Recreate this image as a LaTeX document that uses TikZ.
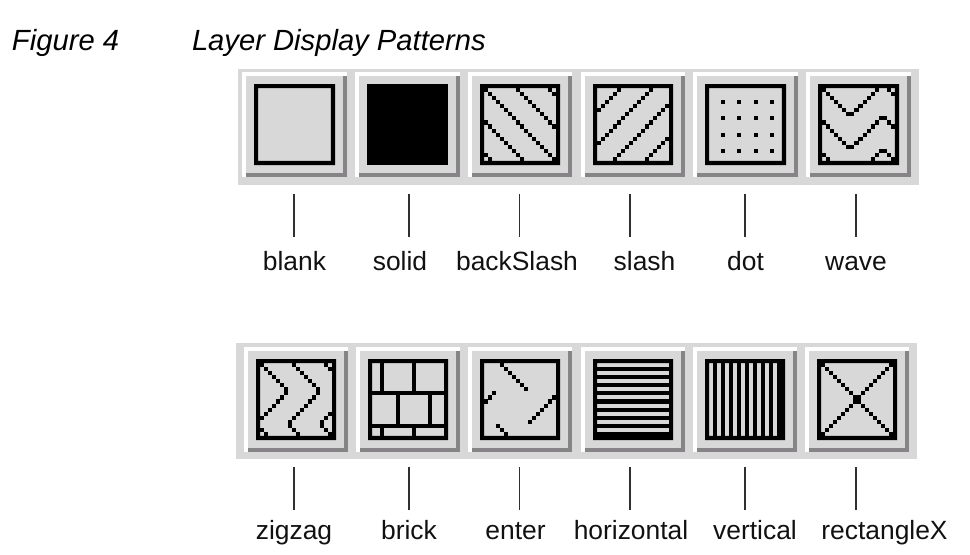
\documentclass[tikz,border=0pt]{standalone}
\usepackage{fontspec}
\setmainfont{Liberation Sans}
\definecolor{panelgray}{HTML}{D8D8D8}
\definecolor{shadegray}{HTML}{868486}
\definecolor{tickgray}{HTML}{303030}
\definecolor{inkcol}{HTML}{111111}
\tikzset{
  panel/.style={fill=panelgray,draw=none},
  lab/.style={font=\fontsize{19.8pt}{22pt}\selectfont,text=inkcol,anchor=base,inner sep=0pt,outer sep=0pt},
  head/.style={font=\fontsize{21.9pt}{24pt}\selectfont\itshape,text=black,anchor=base west,inner sep=0pt,outer sep=0pt},
  tick/.style={draw=tickgray,line width=0.9pt}
}
\newcommand{\btn}[8]{%
  % #1..#4: white left, face left, face right, dark right; #5..#8: white top, face top, face bottom, dark bottom
  \fill[white] (#1,#5) rectangle (#4,#8);
  \fill[shadegray] (#2,#6) rectangle (#4,#8);
  \fill[panelgray] (#2,#6) rectangle (#3,#7);
}
% frame-based pixel art on a 20x20 grid
\newcommand{\cellat}[2]{%
  (\fx+#1*\fw/20-0.03,\fy+#2*\fh/20-0.03) rectangle (\fx+#1*\fw/20+\fw/20+0.03,\fy+#2*\fh/20+\fh/20+0.03)
}
\newcommand{\setframe}[4]{\def\fx{#1}\def\fy{#3}%
  \pgfmathsetmacro{\fw}{#2-#1}\pgfmathsetmacro{\fh}{#4-#3}%
  \fill[black,even odd rule] (#1,#3) rectangle (#2,#4)
    (\fx+\fw/20,\fy+\fh/20) rectangle (\fx+19*\fw/20,\fy+19*\fh/20);}
\newcommand{\cellfill}[1]{% #1 = test expression in \c,\r giving 1 to fill
  \foreach \c in {1,...,18}{\foreach \r in {1,...,18}{%
    \pgfmathtruncatemacro{\hit}{#1}%
    \ifnum\hit=1 \fill[black] \cellat{\c}{\r}; \fi}}}
\begin{document}
\begin{tikzpicture}[x=0.75pt,y=-0.75pt]
\useasboundingbox (0,0) rectangle (970,554);
\node[head] (figno) at (12,50) {Figure 4};
\node[head] (figtitle) at (192,50) {Layer Display Patterns};
% panels
\fill[panel] (238,69) rectangle (919,185);
\fill[panel] (236,343) rectangle (917,459);
% row 1 buttons
\btn{242}{246}{343}{347}{72}{76}{173}{177}
\btn{355}{359}{456}{460}{72}{76}{173}{177}
\btn{468}{472}{568}{572}{72}{76}{173}{177}
\btn{581}{585}{681}{685}{72}{76}{173}{177}
\btn{693}{697}{794}{798}{72}{76}{173}{177}
\btn{806}{810}{907}{911}{72}{76}{173}{177}
% row 2 buttons
\btn{244}{248}{344}{348}{347}{351}{448}{452}
\btn{356}{360}{456}{460}{347}{351}{448}{452}
\btn{468}{472}{568}{572}{347}{351}{448}{452}
\btn{581}{585}{681}{685}{347}{351}{448}{452}
\btn{693}{697}{793}{797}{347}{351}{448}{452}
\btn{805}{809}{905}{909}{347}{351}{448}{452}
% blank
\setframe{254}{335}{84}{165}
% solid
\fill[black] (367,84) rectangle (448,165);
% backSlash
\setframe{480}{560}{84}{165}
\cellfill{mod(\c-\r+16,8)==0 ? 1 : 0}
% slash
\setframe{593}{673}{84}{165}
\cellfill{mod(\c+\r,8)==7 ? 1 : 0}
% dot
\setframe{705}{786}{84}{165}
\cellfill{(mod(\c,4)==0 && mod(\r,4)==0) ? 1 : 0}
% wave
\setframe{818}{899}{84}{165}
\cellfill{mod((mod(\c,16)<=7 ? mod(\c,16) : 15-mod(\c,16))-\r+16,8)==0 ? 1 : 0}
% zigzag
\setframe{256}{336}{359}{440}
\cellfill{mod((mod(\r,16)<=7 ? mod(\r,16) : 15-mod(\r,16))-\c+16,8)==0 ? 1 : 0}
% brick
\setframe{368}{448}{359}{440}
\cellfill{(\r==8 || \r==16 || (\r<8 && mod(\c,8)==3) || (\r>8 && \r<16 && mod(\c,8)==7) || (\r>16 && mod(\c,8)==3)) ? 1 : 0}
% enter
\setframe{480}{560}{359}{440}
\cellfill{((\c-\r==4 && \r<=7) || (\c+\r==11 && \r>=8) || (\c+\r==27 && \c>=12) || (\r-\c==12 && \c>=4)) ? 1 : 0}
% horizontal
\setframe{593}{673}{359}{440}
\cellfill{(mod(\r,2)==0) ? 1 : 0}
% vertical
\setframe{705}{785}{359}{440}
\cellfill{(mod(\c,2)==0) ? 1 : 0}
% rectangleX
\setframe{817}{897}{359}{440}
\cellfill{(\c==\r || \c+\r==19) ? 1 : 0}
\fill[black] \cellat{9}{10}; \fill[black] \cellat{10}{9};
% labels row 1
\node[lab] (blank) at (294.5,270) {blank};
\node[lab] (solid) at (400,270) {solid};
\node[lab] (backslash) at (517,270) {backSlash};
\node[lab] (slash) at (644.5,270) {slash};
\node[lab] (dotl) at (745.5,270) {dot};
\node[lab] (wave) at (856,270) {wave};
% labels row 2
\node[lab] (zigzag) at (294,539) {zigzag};
\node[lab] (brick) at (409,539) {brick};
\node[lab] (enter) at (515.5,539) {enter};
\node[lab] (horizontal) at (631,539) {horizontal};
\node[lab] (vertical) at (755,539) {vertical};
\node[lab] (rectanglex) at (884.5,539) {rectangleX};
% ticks
\foreach \n/\x in {a/294,b/409,c/519.5,d/630,e/745,f/856}{
  \coordinate (t\n) at (\x,194);
  \coordinate (u\n) at (\x,237);
  \draw[tick] (t\n) -- (u\n);
  \coordinate (v\n) at (\x,467);
  \coordinate (w\n) at (\x,510);
  \draw[tick] (v\n) -- (w\n);
}
\end{tikzpicture}
\end{document}
